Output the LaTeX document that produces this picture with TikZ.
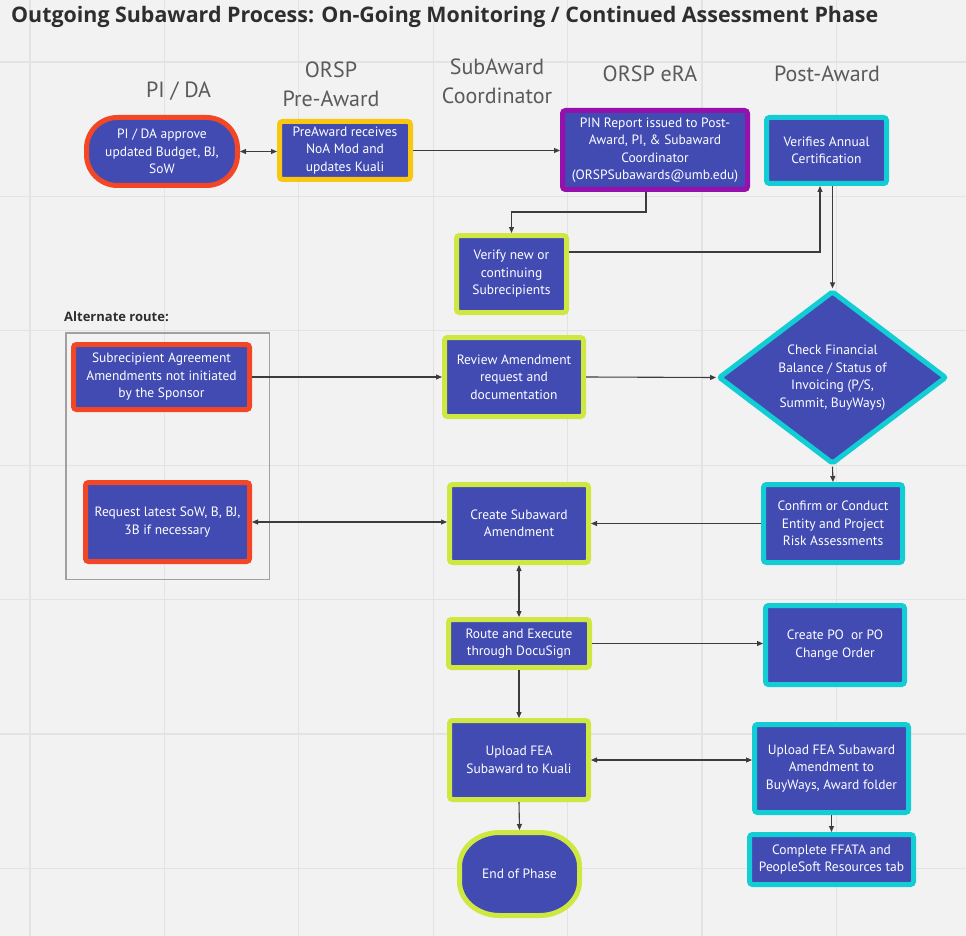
\documentclass[tikz,border=0pt]{standalone}
\usepackage{fontspec}
\setmainfont{PT Sans}
\newfontfamily\headfont{Open Sans}
\usetikzlibrary{shapes.geometric,arrows.meta}
\definecolor{mblue}{HTML}{414BB2}
\definecolor{mred}{HTML}{F24726}
\definecolor{myellow}{HTML}{FAC710}
\definecolor{mpurple}{HTML}{9510AC}
\definecolor{mcyan}{HTML}{12CDD4}
\definecolor{mlime}{HTML}{CEE741}
\definecolor{bgc}{HTML}{F2F2F2}
\definecolor{gridc}{HTML}{E3E3E3}
\definecolor{lnc}{HTML}{3C3C3C}
\definecolor{titlec}{HTML}{2E2E2E}
\definecolor{lanec}{HTML}{5A5A5A}
\definecolor{altc}{HTML}{A0A0A0}
\tikzset{
  mytip/.tip={Triangle[length=6pt,width=5pt]},
  nodefont/.style={font=\fontsize{13.5}{17.5}\selectfont},
  box/.style={draw, line width=5pt, fill=mblue, text=white, rounded corners=3pt,
    align=center, inner sep=0pt, nodefont},
  conn/.style={draw=lnc, line width=1.1pt, -mytip},
  conn2/.style={draw=lnc, line width=1.1pt, mytip-mytip},
  lane/.style={text=lanec, font=\fontsize{22}{29}\selectfont, align=center, inner sep=0pt},
  gridline/.style={draw=gridc, line width=1.2pt}
}
\begin{document}
\begin{tikzpicture}[x=1pt,y=-1pt]
\useasboundingbox (0,0) rectangle (966,936);
\fill[bgc] (0,0) rectangle (966,936);
\foreach \gx in {30,164.4,298.8,433.2,567.6,702,836.4}
  \draw[gridline] (\gx,0) -- (\gx,936);
\foreach \gy in {62,196.4,330.8,465.2,599.6,734,868.4}
  \draw[gridline] (0,\gy) -- (966,\gy);

% title
\node[anchor=base west, inner sep=0pt, text=titlec, font=\headfont\fontsize{21.4}{26}\selectfont\bfseries] (title) at (11,23)
  {Outgoing Subaward Process: On-Going Monitoring / Continued Assessment Phase};

% lane titles
\node[lane, anchor=base] (l1) at (178.5,98) {PI / DA};
\node[lane] (l2) at (331,84.5) {ORSP\\Pre-Award};
\node[lane] (l3) at (497,81.5) {SubAward\\Coordinator};
\node[lane, anchor=base] (l4) at (650,82) {ORSP eRA};
\node[lane, anchor=base] (l5) at (827,82) {Post-Award};

% alternate route
\node[anchor=base west, inner sep=0pt, text=titlec, font=\headfont\fontsize{13}{15}\selectfont\bfseries] (altlabel) at (64,321) {Alternate route:};
\node[draw=altc, line width=1.5pt, minimum width=203.5pt, minimum height=246.5pt, inner sep=0pt] (altbox) at (167.5,456) {};

% nodes
\node[box, draw=mred, rounded corners=31pt, minimum width=151pt, minimum height=68pt] (pida) at (162,151.5)
  {PI / DA approve\\updated Budget, BJ,\\SoW};
\node[box, draw=myellow, minimum width=131pt, minimum height=58pt] (preaward) at (345,150.5)
  {PreAward receives\\NoA Mod and\\updates Kuali};
\node[box, draw=mpurple, minimum width=185pt, minimum height=79pt] (pin) at (655,150)
  {PIN Report issued to Post-\\Award, PI, \& Subaward\\Coordinator\\(ORSPSubawards@umb.edu)};
\node[box, draw=mcyan, minimum width=120pt, minimum height=66pt] (verifies) at (826.5,150.5)
  {Verifies Annual\\Certification};
\node[box, draw=mlime, minimum width=110pt, minimum height=77pt] (verifynew) at (511.5,274)
  {Verify new or\\continuing\\Subrecipients};
\node[box, draw=mcyan, diamond, rounded corners=2pt, minimum width=228pt, minimum height=157pt] (diam) at (832.5,377.5)
  {Check Financial\\Balance / Status of\\Invoicing (P/S,\\Summit, BuyWays)};
\node[box, draw=mred, minimum width=176pt, minimum height=65pt] (subrec) at (161.5,377)
  {Subrecipient Agreement\\Amendments not initiated\\by the Sponsor};
\node[box, draw=mlime, minimum width=139pt, minimum height=79pt] (review) at (514,377)
  {Review Amendment\\request and\\documentation};
\node[box, draw=mred, minimum width=164pt, minimum height=79pt] (request) at (167.5,522)
  {Request latest SoW, B, BJ,\\3B if necessary};
\node[box, draw=mlime, minimum width=139pt, minimum height=78pt] (create) at (519,523.5)
  {Create Subaward\\Amendment};
\node[box, draw=mcyan, minimum width=139pt, minimum height=78pt] (confirm) at (833,523.5)
  {Confirm or Conduct\\Entity and Project\\Risk Assessments};
\node[box, draw=mlime, minimum width=141pt, minimum height=48pt] (route) at (519,643.5)
  {Route and Execute\\through DocuSign};
\node[box, draw=mcyan, minimum width=139pt, minimum height=79pt] (po) at (835,645)
  {Create PO~ or PO\\Change Order};
\node[box, draw=mlime, minimum width=139pt, minimum height=79pt] (kuali) at (519,760)
  {Upload FEA\\Subaward to Kuali};
\node[box, draw=mcyan, minimum width=154pt, minimum height=88pt] (buyways) at (831.5,768.5)
  {Upload FEA Subaward\\Amendment to\\BuyWays, Award folder};
\node[box, draw=mcyan, minimum width=164pt, minimum height=50pt] (ffata) at (831.5,859.5)
  {Complete FFATA and\\PeopleSoft Resources tab};

% end of phase: rounded shape with elliptical corners
\coordinate (endc) at (519.5,874);
\filldraw[draw=mlime, fill=mblue, line width=5pt]
  ([shift={(-20pt,41.5pt)}]endc) -- ++(40pt,0pt)
  arc[start angle=90, end angle=0, x radius=40pt, y radius=34pt] -- ++(0pt,-15pt)
  arc[start angle=0, end angle=-90, x radius=40pt, y radius=34pt] -- ++(-40pt,0pt)
  arc[start angle=270, end angle=180, x radius=40pt, y radius=34pt] -- ++(0pt,15pt)
  arc[start angle=180, end angle=90, x radius=40pt, y radius=34pt] -- cycle;
\node[minimum width=120pt, minimum height=83pt, inner sep=0pt, outer sep=2.5pt, text=white, nodefont] (endp) at (endc)
  {End of Phase};

% connectors
\draw[conn2] (pida.east) -- (pida.east -| preaward.west);
\draw[conn] (preaward.east) -- (preaward.east -| pin.west);
\draw[conn] ([xshift=-9pt]pin.south) -- ++(0,20) -| (verifynew.north);
\draw[conn] ([yshift=22pt]verifynew.east) -| ([xshift=-6.5pt]verifies.south);
\draw[conn] ([xshift=6pt]verifies.south) -- (diam.north);
\draw[conn] (subrec.east) -- (subrec.east -| review.west);
\draw[conn] (review.east) -- (diam.west);
\draw[conn] (diam.south) -- (confirm.north);
\draw[conn] (confirm.west) -- (create.east);
\draw[conn2] (request.east) -- (request.east -| create.west);
\draw[conn2] (create.south) -- (route.north);
\draw[conn] (route.east) -- (route.east -| po.west);
\draw[conn] (route.south) -- (kuali.north);
\draw[conn2] (kuali.east) -- (kuali.east -| buyways.west);
\draw[conn] (buyways.south) -- (ffata.north);
\draw[conn] (kuali.south) -- (endp.north);
\end{tikzpicture}
\end{document}
